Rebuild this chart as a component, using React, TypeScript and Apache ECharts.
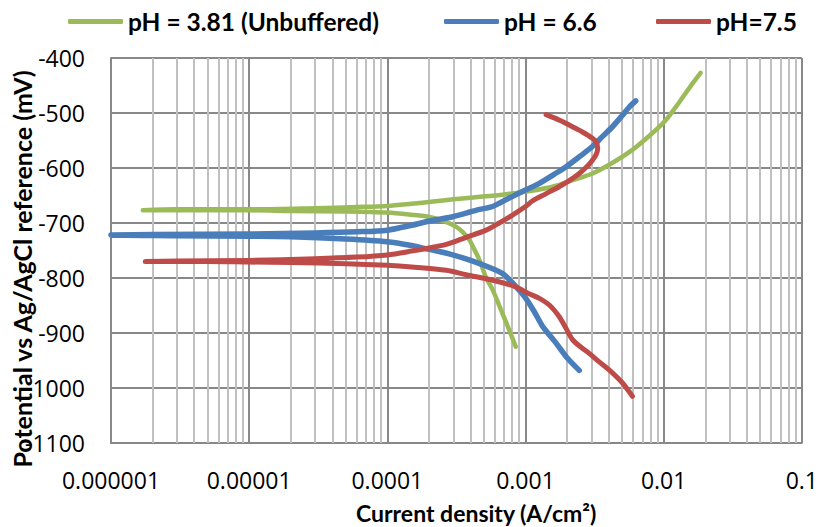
import React, { useEffect, useRef } from "react";
import * as echarts from "echarts";

const seriesNames = ["pH = 3.81 (Unbuffered)", "pH = 6.6", "pH=7.5"];
const seriesColors = ["#9BBB59", "#4A7EBB", "#BE4B48"];

// [current density (A/cm2), potential (mV)] in scan order: cathodic end -> Ecorr -> anodic end
const unbufferedCurve: [number, number][] = [
  [8.5e-4, -925], [7.5e-4, -890], [6.5e-4, -852], [5.8e-4, -822], [5.2e-4, -800],
  [4.64e-4, -767], [4.2e-4, -745], [3.93e-4, -731], [3.5e-4, -716], [3.15e-4, -707],
  [2.6e-4, -697], [2.02e-4, -689], [1.5e-4, -685], [1.0e-4, -681], [5e-5, -679],
  [2e-5, -678], [1e-5, -677], [4e-6, -677], [1.7e-6, -677],
  [3e-6, -675], [1e-5, -675], [3e-5, -673], [6e-5, -671], [1e-4, -669],
  [1.5e-4, -665], [2.14e-4, -661], [3e-4, -657], [4.9e-4, -652], [7e-4, -648],
  [1e-3, -643], [1.57e-3, -634], [2.2e-3, -622], [3.05e-3, -610], [4.3e-3, -590],
  [5.94e-3, -567], [8e-3, -540], [1.035e-2, -513], [1.3e-2, -480], [1.6e-2, -448],
  [1.85e-2, -427],
];

const ph66Curve: [number, number][] = [
  [2.45e-3, -968], [2.0e-3, -945], [1.66e-3, -918], [1.45e-3, -900], [1.33e-3, -888],
  [1.15e-3, -860], [1.0e-3, -836], [9e-4, -822], [7.5e-4, -801], [6.84e-4, -792],
  [5.5e-4, -781], [4e-4, -768], [2.8e-4, -756], [2e-4, -748], [1.5e-4, -741],
  [1e-4, -734], [5e-5, -729], [2e-5, -725], [1e-5, -724], [3e-6, -723], [1e-6, -722],
  [2e-6, -721], [1e-5, -720], [3e-5, -718], [6e-5, -716], [1e-4, -713],
  [1.5e-4, -704], [2.14e-4, -695], [2.8e-4, -690], [3.72e-4, -682], [4.5e-4, -676],
  [5.19e-4, -673], [5.78e-4, -670], [6.46e-4, -664], [8e-4, -652], [1e-3, -640],
  [1.26e-3, -628], [1.6e-3, -612], [1.96e-3, -598], [2.5e-3, -578], [3.05e-3, -561],
  [3.6e-3, -543], [4.26e-3, -525], [5e-3, -505], [5.6e-3, -490], [6.28e-3, -478],
];

const ph75Curve: [number, number][] = [
  [5.94e-3, -1015], [5e-3, -990], [4.03e-3, -967], [3.4e-3, -952], [2.89e-3, -937],
  [2.5e-3, -925], [2.19e-3, -912], [1.95e-3, -890], [1.75e-3, -870], [1.5e-3, -850],
  [1.26e-3, -837], [1.05e-3, -828], [8.5e-4, -816], [6e-4, -805], [3.72e-4, -794],
  [2.67e-4, -786], [1.5e-4, -780], [1e-4, -777], [5e-5, -774], [2e-5, -772],
  [1e-5, -771], [5e-6, -770], [1.77e-6, -770],
  [3e-6, -769], [1e-5, -768], [3e-5, -765], [6e-5, -762], [1e-4, -758],
  [1.5e-4, -751], [2.14e-4, -744], [2.67e-4, -739], [3.72e-4, -726], [5.19e-4, -713],
  [6.46e-4, -700], [8e-4, -686], [1e-3, -670], [1.12e-3, -660], [1.4e-3, -647],
  [1.75e-3, -634], [2.1e-3, -622], [2.45e-3, -610], [2.8e-3, -597], [3.05e-3, -586],
  [3.25e-3, -575], [3.33e-3, -564], [3.25e-3, -553], [3.05e-3, -546], [2.6e-3, -535],
  [2.19e-3, -525], [1.8e-3, -514], [1.41e-3, -503],
];

const xTickLabels = ["0.000001", "0.00001", "0.0001", "0.001", "0.01", "0.1"];
const minorDecades = [1e-6, 1e-5, 1e-4, 1e-3, 1e-2];
const minorMultipliers = [2, 3, 4, 5, 6, 7, 8, 9];

const TITLE_FONT = "Lato, 'Open Sans', sans-serif";
const TICK_FONT = "'Open Sans', Lato, sans-serif";

export default function App() {
  const ref = useRef<HTMLDivElement>(null);
  useEffect(() => {
    if (!ref.current) return;
    const chart = echarts.init(ref.current, undefined, { renderer: "svg" });
    const minorLines: { coords: [number, number][] }[] = [];
    minorDecades.forEach((d) =>
      minorMultipliers.forEach((m) => {
        const v = parseFloat((d * m).toPrecision(3));
        minorLines.push({ coords: [[v, -1100], [v, -400]] });
      })
    );
    const curves = [unbufferedCurve, ph66Curve, ph75Curve];
    const widths = [4.5, 5.5, 5];
    const legendLefts = [63, 439, 651];
    chart.setOption({
      animation: false,
      textStyle: { fontFamily: TITLE_FONT },
      grid: { left: 111, right: 18, top: 58, bottom: 84, containLabel: false },
      legend: seriesNames.map((n, i) => ({
        data: [n],
        left: legendLefts[i],
        top: 4,
        icon: "roundRect",
        itemWidth: 55,
        itemHeight: 5,
        textStyle: { fontFamily: TITLE_FONT, fontSize: 24.5, fontWeight: "bold", color: "#000" },
        selectedMode: false,
      })),
      xAxis: {
        type: "log",
        logBase: 10,
        min: 1e-6,
        max: 0.1,
        axisLine: { show: true, lineStyle: { color: "#888", width: 2 } },
        axisTick: { show: false },
        splitLine: { show: true, lineStyle: { color: "#888", width: 2 } },
        axisLabel: {
          fontFamily: TICK_FONT,
          fontSize: 23,
          color: "#000",
          margin: 25,
          formatter: (v: number) => xTickLabels[Math.round(Math.log10(v)) + 6] ?? "",
        },
      },
      yAxis: {
        type: "value",
        min: -1100,
        max: -400,
        interval: 100,
        axisLine: { show: true, lineStyle: { color: "#888", width: 2 } },
        axisTick: { show: false },
        splitLine: { show: true, lineStyle: { color: "#888", width: 2 } },
        axisLabel: {
          fontFamily: TICK_FONT,
          fontSize: 23,
          color: "#000",
          margin: 26,
          formatter: (v: number) => String(v),
        },
      },
      graphic: [
        {
          type: "text",
          x: 356,
          y: 513,
          style: {
            text: "Current density (A/cm²)",
            fontFamily: TITLE_FONT,
            fontSize: 23,
            fontWeight: "bold",
            fill: "#000",
            align: "left",
            verticalAlign: "middle",
          },
          z: 10,
        },
        {
          type: "text",
          x: 22,
          y: 269,
          rotation: Math.PI / 2,
          style: {
            text: "Potential vs Ag/AgCl reference (mV)",
            fontFamily: TITLE_FONT,
            fontSize: 25,
            fontWeight: "bold",
            fill: "#000",
            align: "center",
            verticalAlign: "middle",
          },
          z: 10,
        },
      ],
      series: [
        {
          name: "minor-grid",
          type: "lines",
          coordinateSystem: "cartesian2d",
          silent: true,
          z: 1,
          lineStyle: { color: "#C0C0C0", width: 2, opacity: 1 },
          data: minorLines,
        },
        ...curves.map((c, i) => ({
          name: seriesNames[i],
          type: "line",
          data: c,
          symbol: "none",
          showSymbol: false,
          smooth: 0.3,
          color: seriesColors[i],
          lineStyle: { color: seriesColors[i], width: widths[i], cap: "round", join: "round" },
          z: 3 + i,
        })),
      ],
    });
    return () => chart.dispose();
  }, []);
  return (
    <div
      ref={ref}
      style={{ position: "absolute", left: 0, top: 0, width: 821, height: 527, background: "#fff" }}
    />
  );
}
